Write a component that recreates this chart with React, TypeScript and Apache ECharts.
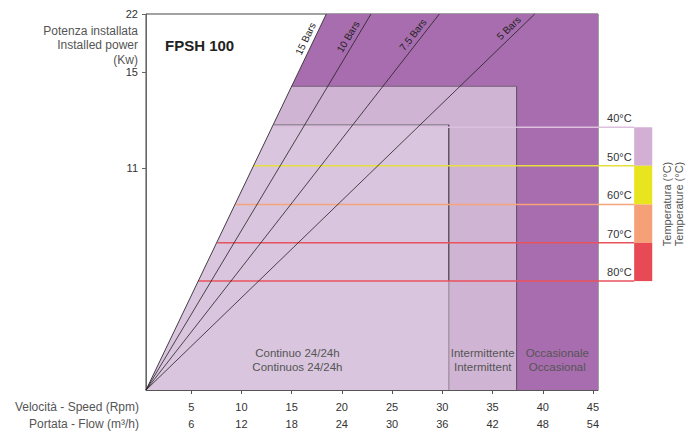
import React, { useEffect, useRef } from "react";
import * as echarts from "echarts";

// ---- axis ticks ----
const speedTicks = [5, 10, 15, 20, 25, 30, 35, 40, 45];
const flowTicks = [6, 12, 18, 24, 30, 36, 42, 48, 54];
const powerTicks = [11, 15, 22];

// schematic (piecewise) power scale: kW -> fraction of the axis height
const powerKnots = [0, 11, 15, 22];
const powerFrac = [0, 0.59, 0.846, 1];

const speedMin = 0.5;
const speedMax = 45.5;

// ---- pressure lines (from origin up to 22 kW) ----
const barNames = ["15 Bars", "10 Bars", "7.5 Bars", "5 Bars"];
const barTopSpeed = [18.45, 22.9, 29.7, 39.2];
const barTopPower = 22;

// ---- duty zones ----
const zoneNames = [
  ["Occasionale", "Occasional"],
  ["Intermittente", "Intermittent"],
  ["Continuo 24/24h", "Continuos 24/24h"],
];
const zoneTopLeftSpeed = [18.45, 15.0, 13.2];
const zoneTopPower = [22, 14.4, 12.8];
const zoneRightSpeed = [45.5, 37.4, 30.65];
const zoneColors = ["#a86dae", "#d0b4d4", "#d9c5de"];
const zoneTopEdge = ["", "#8b6d8f", "#9a8b9c"];
const zoneRightEdge = ["", "#5d4a60", "#222222"];

// ---- temperature limits ----
const tempLabels = ["40°C", "50°C", "60°C", "70°C", "80°C"];
const tempPower = [12.7, 11.1, 9.2, 7.3, 5.4];
const tempStartSpeed = [13.0, 11.2, 9.4, 7.6, 5.7];
const tempEndSpeed = 49.1;
const tempBarEndSpeed = 50.9;
const tempLabelSpeed = 46.4;
const tempColors = ["#dcc0de", "#e6df3c", "#f5a47c", "#e8525c", "#e8525c"];
const tempBarColors = ["#d4afd5", "#e8e51e", "#f6a077", "#e84a55"];

const FONT = "'Liberation Sans', Arial, Helvetica, sans-serif";

function toU(kw: number): number {
  for (let i = 1; i < powerKnots.length; i++) {
    if (kw <= powerKnots[i] || i === powerKnots.length - 1) {
      const a = powerKnots[i - 1];
      const b = powerKnots[i];
      const t = (kw - a) / (b - a);
      return powerFrac[i - 1] + t * (powerFrac[i] - powerFrac[i - 1]);
    }
  }
  return 0;
}

export default function App() {
  const ref = useRef<HTMLDivElement>(null);

  useEffect(() => {
    if (!ref.current) return;
    const chart = echarts.init(ref.current, undefined, { renderer: "svg" });

    const zonesSeries: any = {
      type: "custom",
      name: "zones",
      clip: false,
      silent: true,
      z: 1,
      data: zoneNames.map((_, i) => [i, 0]),
      renderItem: (params: any, api: any) => {
        const i = params.dataIndex;
        const p0 = api.coord([speedMin, toU(0)]);
        const p1 = api.coord([zoneTopLeftSpeed[i], toU(zoneTopPower[i])]);
        const p2 = api.coord([zoneRightSpeed[i], toU(zoneTopPower[i])]);
        const p3 = api.coord([zoneRightSpeed[i], toU(0)]);
        const leftBottom = i === 2 ? speedMin : zoneRightSpeed[i + 1];
        const cx = (api.coord([leftBottom, 0])[0] + p3[0]) / 2;
        const children: any[] = [
          {
            type: "polygon",
            shape: { points: [p0, p1, p2, p3] },
            style: { fill: zoneColors[i] },
          },
        ];
        if (zoneTopEdge[i]) {
          children.push({
            type: "line",
            shape: { x1: p1[0], y1: p1[1], x2: p2[0], y2: p2[1] },
            style: { stroke: zoneTopEdge[i], lineWidth: 1.5 },
          });
        }
        if (zoneRightEdge[i]) {
          if (i === 2) {
            const pm = api.coord([zoneRightSpeed[i], toU(tempPower[4])]);
            children.push({
              type: "line",
              shape: { x1: p2[0], y1: p2[1], x2: pm[0], y2: pm[1] },
              style: { stroke: zoneRightEdge[i], lineWidth: 1 },
            });
            children.push({
              type: "line",
              shape: { x1: pm[0], y1: pm[1], x2: p3[0], y2: p3[1] },
              style: { stroke: "#9a8b9c", lineWidth: 1.2 },
            });
          } else {
            children.push({
              type: "line",
              shape: { x1: p2[0], y1: p2[1], x2: p3[0], y2: p3[1] },
              style: { stroke: zoneRightEdge[i], lineWidth: 1 },
            });
          }
        }
        children.push({
          type: "text",
          style: {
            text: zoneNames[i].join("\n"),
            x: cx,
            y: p3[1] - 30,
            align: "center",
            verticalAlign: "middle",
            textAlign: "center",
            textVerticalAlign: "middle",
            fontSize: 11.5,
            lineHeight: 14,
            fontFamily: FONT,
            fill: "#555555",
          },
        });
        return { type: "group", children };
      },
    };

    const tempLineSeries: any = {
      type: "custom",
      name: "tempLines",
      clip: false,
      silent: true,
      z: 2,
      data: tempLabels.map((_, i) => [i, 0]),
      renderItem: (params: any, api: any) => {
        const i = params.dataIndex;
        const a = api.coord([tempStartSpeed[i], toU(tempPower[i])]);
        const b = api.coord([tempEndSpeed, toU(tempPower[i])]);
        return {
          type: "line",
          shape: { x1: a[0], y1: a[1], x2: b[0], y2: b[1] },
          style: { stroke: tempColors[i], lineWidth: 1.5 },
        };
      },
    };

    const legendSeries: any = {
      type: "custom",
      name: "tempLegend",
      clip: false,
      silent: true,
      z: 4,
      data: tempLabels.map((_, i) => [i, 0]),
      renderItem: (params: any, api: any) => {
        const i = params.dataIndex;
        const pTop = api.coord([tempEndSpeed, toU(tempPower[i])]);
        const pLab = api.coord([tempLabelSpeed, toU(tempPower[i])]);
        const children: any[] = [
          {
            type: "text",
            style: {
              text: tempLabels[i],
              x: pLab[0],
              y: pLab[1] - 9,
              align: "left",
              verticalAlign: "middle",
              textAlign: "left",
              textVerticalAlign: "middle",
              fontSize: 11,
              fontFamily: FONT,
              fill: "#333333",
            },
          },
        ];
        if (i < tempBarColors.length) {
          const pBot = api.coord([tempBarEndSpeed, toU(tempPower[i + 1])]);
          children.push({
            type: "rect",
            shape: { x: pTop[0], y: pTop[1], width: pBot[0] - pTop[0], height: pBot[1] - pTop[1] },
            style: { fill: tempBarColors[i] },
          });
        }
        return { type: "group", children };
      },
    };

    const pressureSeries: any = {
      type: "line",
      name: "pressure",
      data: [],
      z: 3,
      silent: true,
      markLine: {
        silent: true,
        symbol: ["none", "none"],
        animation: false,
        lineStyle: { color: "#222222", width: 0.8, type: "solid" },
        label: {
          show: true,
          position: "insideEndTop",
          distance: [14, 3],
          fontSize: 10,
          fontFamily: FONT,
          color: "#222222",
          formatter: (p: any) => barNames[p.dataIndex],
        },
        emphasis: { disabled: true },
        data: barNames.map((name, i) => [
          { name, coord: [speedMin, toU(0)] },
          { coord: [barTopSpeed[i], toU(barTopPower)] },
        ]),
      },
    };

    const option: any = {
      animation: false,
      textStyle: { fontFamily: FONT },
      grid: {
        left: 146,
        right: 90,
        top: 14,
        bottom: 48,
        show: true,
        borderColor: "#444444",
        borderWidth: 1,
        backgroundColor: "transparent",
      },
      xAxis: {
        type: "value",
        min: speedMin,
        max: speedMax,
        splitLine: { show: false },
        axisLine: { show: true, lineStyle: { color: "#555555", width: 1 } },
        axisTick: {
          show: true,
          customValues: speedTicks,
          length: 4,
          lineStyle: { color: "#555555" },
        },
        axisLabel: {
          customValues: speedTicks,
          fontSize: 11,
          lineHeight: 17,
          color: "#333333",
          margin: 8,
          formatter: (v: number) => {
            const i = speedTicks.indexOf(v);
            return i >= 0 ? `${v}\n${flowTicks[i]}` : "";
          },
        },
      },
      yAxis: {
        type: "value",
        min: 0,
        max: 1,
        splitLine: { show: false },
        axisLine: { show: true, lineStyle: { color: "#666666", width: 1 } },
        axisTick: {
          show: true,
          customValues: powerTicks.map(toU),
          length: 4,
          lineStyle: { color: "#666666" },
        },
        axisLabel: {
          customValues: powerTicks.map(toU),
          fontSize: 11,
          lineHeight: 10,
          color: "#333333",
          margin: 8,
          formatter: (v: number) => {
            const i = powerTicks.findIndex((t) => Math.abs(toU(t) - v) < 1e-6);
            return i >= 0 ? String(powerTicks[i]) : "";
          },
        },
      },
      graphic: [
        {
          type: "text",
          x: 165,
          y: 45,
          style: {
            text: "FPSH 100",
            fontSize: 15,
            fontWeight: "bold",
            fontFamily: FONT,
            fill: "#222222",
            align: "left",
            verticalAlign: "middle",
            textAlign: "left",
            textVerticalAlign: "middle",
          },
        },
        {
          type: "text",
          x: 138,
          y: 24,
          style: {
            text: "Potenza installata\nInstalled power\n(Kw)",
            fontSize: 12,
            lineHeight: 14.3,
            fontFamily: FONT,
            fill: "#555555",
            align: "right",
            verticalAlign: "top",
            textAlign: "right",
            textVerticalAlign: "top",
          },
        },
        {
          type: "text",
          x: 139,
          y: 407,
          style: {
            text: "Velocità - Speed (Rpm)",
            fontSize: 12,
            fontFamily: FONT,
            fill: "#555555",
            align: "right",
            verticalAlign: "middle",
            textAlign: "right",
            textVerticalAlign: "middle",
          },
        },
        {
          type: "text",
          x: 139,
          y: 424,
          style: {
            text: "Portata - Flow (m³/h)",
            fontSize: 12,
            fontFamily: FONT,
            fill: "#555555",
            align: "right",
            verticalAlign: "middle",
            textAlign: "right",
            textVerticalAlign: "middle",
          },
        },
        {
          type: "text",
          x: 667,
          y: 204,
          rotation: Math.PI / 2,
          style: {
            text: "Temperatura (°C)",
            fontSize: 11,
            fontFamily: FONT,
            fill: "#555555",
            align: "center",
            verticalAlign: "middle",
            textAlign: "center",
            textVerticalAlign: "middle",
          },
        },
        {
          type: "text",
          x: 679,
          y: 204,
          rotation: Math.PI / 2,
          style: {
            text: "Temperature (°C)",
            fontSize: 11,
            fontFamily: FONT,
            fill: "#555555",
            align: "center",
            verticalAlign: "middle",
            textAlign: "center",
            textVerticalAlign: "middle",
          },
        },
      ],
      series: [zonesSeries, tempLineSeries, pressureSeries, legendSeries],
    };

    chart.setOption(option);
    return () => chart.dispose();
  }, []);

  return (
    <div
      ref={ref}
      style={{ position: "fixed", left: 0, top: 0, width: 688, height: 438, background: "#ffffff" }}
    />
  );
}
